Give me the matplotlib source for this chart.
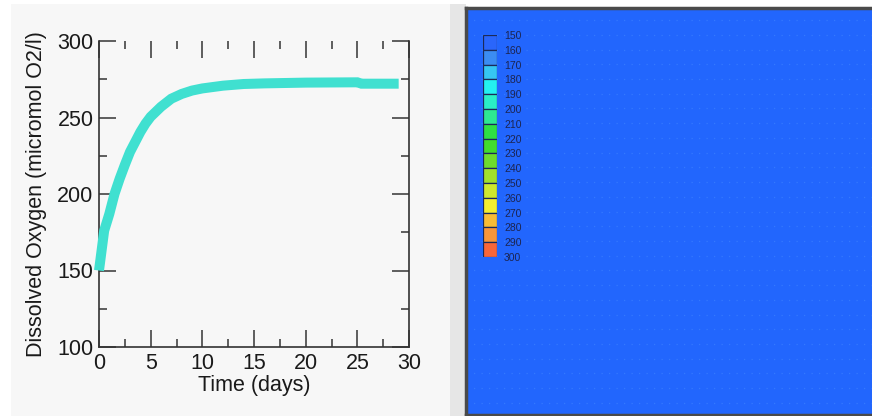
import numpy as np
import matplotlib
matplotlib.use('Agg')
import matplotlib.pyplot as plt
from matplotlib.patches import Rectangle
from matplotlib.ticker import MultipleLocator, FixedLocator

plt.rcParams['font.family'] = ['Liberation Sans', 'DejaVu Sans']

# dissolved oxygen time series (days, micromol O2/l)
time_days = [0, 0.5, 1, 1.5, 2, 2.5, 3, 3.5, 4, 4.5, 5, 6, 7, 8, 9, 10,
             12, 14, 16, 20, 25, 25.4, 29]
oxygen = [150, 176, 187, 200, 210, 219, 227.5, 234, 240.5, 246, 250.5, 257,
          262.3, 265.4, 267.6, 269, 270.8, 271.9, 272.3, 272.8, 273, 272.1, 272.1]

# colour legend levels for the map panel
levels = [150, 160, 170, 180, 190, 200, 210, 220, 230, 240, 250, 260, 270, 280, 290, 300]
level_colors = ['#2a66fb', '#3b8cf2', '#36c6f2', '#24f0f0', '#2aeec6', '#2ee892',
                '#2ee044', '#42dc2c', '#6edc2c', '#a2e02c', '#cfe82e', '#f4ee2e',
                '#f8bc36', '#f8963a', '#f8663a']

W, H = 872, 416
fig = plt.figure(figsize=(W / 100, H / 100), dpi=100)
fig.patch.set_facecolor('white')


def px_axes(x0, y0, x1, y1, **kw):
    # axes placed by pixel box (top-left origin)
    return fig.add_axes([x0 / W, 1 - y1 / H, (x1 - x0) / W, (y1 - y0) / H], **kw)


# panel backgrounds
bg = px_axes(0, 0, W, H)
bg.set_xlim(0, W)
bg.set_ylim(H, 0)
bg.axis('off')
bg.add_patch(Rectangle((11, 4), 439, 412, color='#f7f7f7', lw=0))
bg.add_patch(Rectangle((450, 4), 16, 412, color='#e6e6e6', lw=0))

# time series plot
ax = px_axes(99, 41, 409, 347)
ax.set_facecolor('#f7f7f7')
ax.plot(time_days, oxygen, color='#40e0d0', lw=7.2, solid_capstyle='butt',
        solid_joinstyle='miter', clip_on=False, zorder=3)
ax.set_xlim(0, 30)
ax.set_ylim(100, 300)
ax.xaxis.set_major_locator(MultipleLocator(5))
ax.xaxis.set_minor_locator(MultipleLocator(2.5))
ax.yaxis.set_major_locator(MultipleLocator(50))
ax.yaxis.set_minor_locator(MultipleLocator(25))
ax.tick_params(which='both', direction='in', top=True, right=True, colors='#444444',
               labelcolor='#1a1a1a', labelsize=15.5, pad=4)
ax.tick_params(which='major', length=12, width=1.2)
ax.tick_params(which='minor', length=6, width=1.2)
ax.spines['top'].set_visible(False)
for s in ['left', 'bottom', 'right']:
    ax.spines[s].set_color('#333333')
    ax.spines[s].set_linewidth(1.2)
ax.set_xlabel('Time (days)', fontsize=15.5, color='#1a1a1a', labelpad=1)
ax.set_ylabel('Dissolved Oxygen (micromol O2/l)', fontsize=15.5, color='#1a1a1a',
              labelpad=7)

# map panel
amap = px_axes(466, 8, W + 8, 415)
amap.set_facecolor('#2266fd')
amap.set_xticks([])
amap.set_yticks([])
for s in ['top', 'left', 'bottom']:
    amap.spines[s].set_color('#4a4a4a')
    amap.spines[s].set_linewidth(2.5)
amap.spines['right'].set_visible(False)
amap.set_xlim(0, 1)
amap.set_ylim(0, 1)
for yy in np.linspace(0.03, 0.97, 27):
    amap.axhline(yy, color='#3d82ff', lw=0.9, ls=(0, (1, 5)), alpha=0.7)

# colour legend
acb = px_axes(483, 35, 497, 257)
acb.bar(0.5, np.diff(levels), bottom=levels[:-1], width=1, color=level_colors,
        edgecolor='#1c2a58', lw=0.9)
acb.set_xlim(0, 1)
acb.set_ylim(300, 150)
acb.set_xticks([])
acb.yaxis.tick_right()
acb.yaxis.set_major_locator(FixedLocator(levels))
acb.tick_params(axis='y', length=0, pad=5, labelsize=7.5, labelcolor='#1c2450')
for s in acb.spines.values():
    s.set_visible(False)

fig.savefig('out.png', dpi=100)
